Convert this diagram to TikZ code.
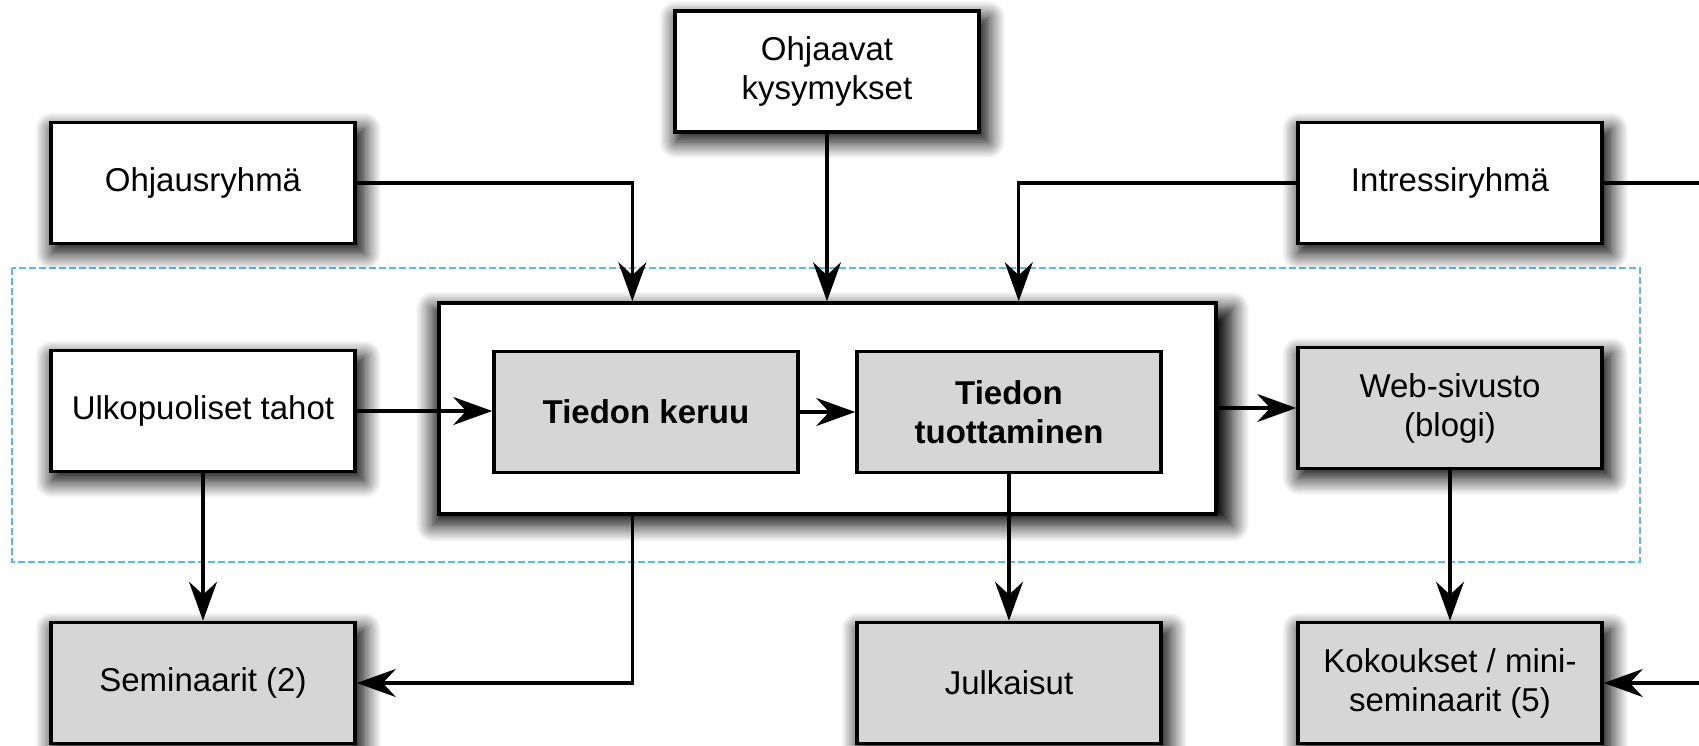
\documentclass[tikz,border=0pt]{standalone}
\usepackage{fontspec}
\setmainfont{Liberation Sans}
\usetikzlibrary{arrows.meta,positioning,calc,shadows.blur}
\definecolor{boxgray}{RGB}{214,214,214}
\definecolor{dashblue}{RGB}{80,190,245}

\begin{document}
\begin{tikzpicture}[x=0.5pt,y=-0.5pt,
    box/.style={draw, line width=1.8pt, fill=white, align=center,
                minimum width=152pt, minimum height=60.5pt,
                font=\fontsize{16.5}{19.5}\selectfont},
    shadowed/.style={blur shadow={shadow xshift=2.5pt, shadow yshift=-4pt, shadow scale=1.03,
                shadow blur radius=8pt, shadow opacity=100, shadow blur steps=14}},
    greybox/.style={box, fill=boxgray},
    conn/.style={line width=1.6pt, -{Stealth[length=19.5pt,width=14pt,inset=6.5pt]}},
    plain/.style={line width=1.6pt}]
  \useasboundingbox (0,0) rectangle (1699,745);
  \draw[dashblue, line width=1pt, dash pattern=on 3.5pt off 1.5pt] (12,268) rectangle (1640,562);

  \node[box, shadowed] (ohjaavat) at (827,71.5) {Ohjaavat\\kysymykset};
  \node[box, shadowed] (ohjaus) at (203,183) {Ohjausryhmä};
  \node[box, shadowed] (intr) at (1450,183) {Intressiryhmä};
  \node[box, shadowed, minimum width=388.5pt, minimum height=105.5pt] (proc) at (827.5,408.5) {};
  \node[box, shadowed] (ulko) at (203,411) {Ulkopuoliset tahot};
  \node[greybox, font=\fontsize{16.5}{19.5}\selectfont\bfseries] (keruu) at (646,412) {Tiedon keruu};
  \node[greybox, font=\fontsize{16.5}{19.5}\selectfont\bfseries] (tuott) at (1009,412) {Tiedon\\tuottaminen};
  \node[greybox, shadowed] (web) at (1450,408) {Web-sivusto\\(blogi)};
  \node[greybox, shadowed] (semi) at (203,683) {Seminaarit (2)};
  \node[greybox, shadowed] (julk) at (1009,683) {Julkaisut};
  \node[greybox, shadowed] (kok) at (1450,683) {Kokoukset / mini-\\seminaarit (5)};

  \coordinate (inL) at ($(proc.north west)!0.25!(proc.north east)$);
  \coordinate (inR) at ($(proc.north west)!0.745!(proc.north east)$);
  \coordinate (outL) at ($(proc.south west)!0.25!(proc.south east)$);
  \coordinate (edgeA) at (1699,183);
  \coordinate (edgeB) at (1699,683);

  \draw[conn] (ohjaus.east) -| (inL);
  \draw[conn] (ohjaavat.south) -- (ohjaavat.south |- proc.north);
  \draw[conn] (intr.west) -| (inR);
  \draw[plain] (intr.east) -- (edgeA);
  \draw[conn] (edgeB) -- (kok.east);
  \draw[conn] (ulko.east) -- (ulko.east -| keruu.west);
  \draw[conn] (keruu.east) -- (tuott.west);
  \draw[conn] (proc.east |- web.west) -- (web.west);
  \draw[conn] (ulko.south) -- (semi.north);
  \draw[conn] (outL) |- (semi.east);
  \draw[conn] (tuott.south) -- (julk.north);
  \draw[conn] (web.south) -- (kok.north);
\end{tikzpicture}
\end{document}
